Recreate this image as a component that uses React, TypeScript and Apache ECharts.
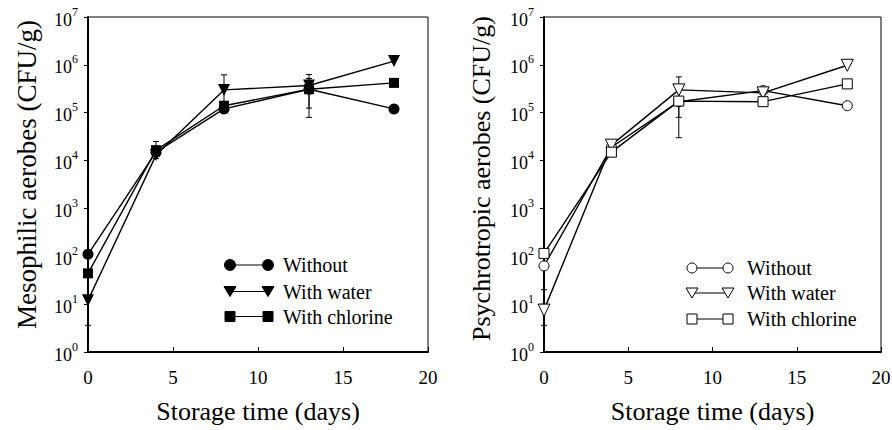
import React, { useEffect, useRef } from "react";
import * as echarts from "echarts";

const days = [0, 4, 8, 13, 18];
const legendLabels = ["Without", "With water", "With chlorine"];
const xTicks = [0, 5, 10, 15, 20];

// Mesophilic aerobes (CFU/g)
const mesoWithout = [110, 15000, 120000, 310000, 120000];
const mesoWater = [12, 13000, 300000, 370000, 1200000];
const mesoChlorine = [44, 16500, 140000, 310000, 420000];

// Psychrotropic aerobes (CFU/g)
const psyWithout = [63, 19000, 170000, 290000, 140000];
const psyWater = [7.5, 21000, 300000, 260000, 980000];
const psyChlorine = [115, 15000, 175000, 170000, 400000];

// error bars: [day, low, high]
const mesoErr = [
  [0, 3.6, 12],
  [4, 11000, 25000],
  [8, 140000, 620000],
  [13, 80000, 630000],
  [13, 125000, 520000],
];
const psyErr = [
  [0, 3.6, 10],
  [0, 20, 63],
  [8, 30000, 560000],
  [8, 80000, 350000],
];

const FONT = "Liberation Serif";

function pairs(vals: number[]) {
  return days.map((d, i) => [d, vals[i]]);
}

function errRender(params: any, api: any) {
  const x = api.value(0);
  const lo = api.coord([x, api.value(1)]);
  const hi = api.coord([x, api.value(2)]);
  const w = 3;
  const st = { stroke: "#000", lineWidth: 1 };
  return {
    type: "group",
    children: [
      { type: "line", shape: { x1: lo[0], y1: lo[1], x2: hi[0], y2: hi[1] }, style: st },
      { type: "line", shape: { x1: lo[0] - w, y1: lo[1], x2: lo[0] + w, y2: lo[1] }, style: st },
      { type: "line", shape: { x1: hi[0] - w, y1: hi[1], x2: hi[0] + w, y2: hi[1] }, style: st },
    ],
  };
}

function xAxisCfg(gridIndex: number) {
  return {
    gridIndex,
    type: "value",
    min: 0,
    max: 20,
    interval: 5,
    axisLine: { show: true, onZero: false, lineStyle: { color: "#000", width: 2 } },
    axisTick: { show: true, inside: true, length: 5, lineStyle: { color: "#000", width: 1 } },
    axisLabel: {
      color: "#000",
      fontSize: 19,
      fontFamily: FONT,
      margin: 16,
      formatter: (v: number) => (xTicks.includes(v) ? String(v) : ""),
    },
    splitLine: { show: false },
    name: "Storage time (days)",
    nameLocation: "middle",
    nameGap: 46,
    nameMoveOverlap: false,
    nameTextStyle: { color: "#000", fontSize: 26, fontFamily: FONT },
  };
}

function yAxisCfg(gridIndex: number, name: string, size: number, shift: number, gap: number) {
  return {
    gridIndex,
    type: "log",
    logBase: 10,
    min: 1,
    max: 1e7,
    splitNumber: 7,
    axisLine: { show: true, onZero: false, lineStyle: { color: "#000", width: 2 } },
    axisTick: { show: true, inside: false, length: 4, lineStyle: { color: "#000", width: 1 } },
    minorTick: { show: false },
    axisLabel: {
      color: "#000",
      margin: 10,
      formatter: (v: number) => `{b|10}{s|${Math.round(Math.log10(v))}}`,
      rich: {
        b: { fontSize: 18, fontFamily: FONT, color: "#000", padding: [5, 0, 0, 0] },
        s: { fontSize: 12, fontFamily: FONT, color: "#000", verticalAlign: "top" },
      },
    },
    splitLine: { show: false },
    name,
    nameLocation: "middle",
    nameGap: gap,
    nameMoveOverlap: false,
    nameTextStyle: { color: "#000", fontSize: size, fontFamily: FONT, padding: [0, 0, 0, shift] },
  };
}

function lineSeries(
  name: string,
  vals: number[],
  idx: number,
  symbol: string,
  size: number,
  rotate: number,
  filled: boolean
) {
  return {
    type: "line",
    name,
    xAxisIndex: idx,
    yAxisIndex: idx,
    data: pairs(vals),
    symbol,
    symbolSize: size,
    symbolRotate: rotate,
    showAllSymbol: true,
    clip: false,
    z: 3,
    lineStyle: { color: "#000", width: 1.4 },
    itemStyle: filled
      ? { color: "#000", borderColor: "#000", borderWidth: 0 }
      : { color: "#fff", borderColor: "#000", borderWidth: 1 },
    emphasis: { disabled: true },
  };
}

function legendGraphic(x1: number, x2: number, tx: number, ys: number[], filled: boolean) {
  const fill = filled ? "#000" : "#fff";
  const st = { fill, stroke: "#000", lineWidth: 1 };
  const els: any[] = [];
  const mk = (kind: number, cx: number, cy: number) => {
    if (kind === 0) return { type: "circle", shape: { cx, cy, r: filled ? 5.5 : 5 }, style: st };
    if (kind === 1)
      return {
        type: "polygon",
        shape: { points: [[cx - 6, cy - 5], [cx + 6, cy - 5], [cx, cy + 5]] },
        style: st,
      };
    return { type: "rect", shape: { x: cx - 5, y: cy - 5, width: 10, height: 10 }, style: st };
  };
  legendLabels.forEach((lab, k) => {
    const y = ys[k];
    els.push({ type: "line", shape: { x1, y1: y, x2, y2: y }, style: { stroke: "#000", lineWidth: 1.2 } });
    els.push(mk(k, x1, y));
    els.push(mk(k, x2, y));
    els.push({
      type: "text",
      x: tx,
      y,
      style: { text: lab, fontSize: 20, fontFamily: FONT, fill: "#000", verticalAlign: "middle", align: "left" },
    });
  });
  return els;
}

export default function App() {
  const ref = useRef<HTMLDivElement>(null);
  useEffect(() => {
    document.body.style.margin = "0";
    const chart = echarts.init(ref.current!, null, { renderer: "svg" });
    chart.setOption({
      animation: false,
      backgroundColor: "#fff",
      grid: [
        { left: 88, right: 464, top: 17, bottom: 78, outerBoundsMode: "none", containLabel: false, show: true, borderColor: "#000", borderWidth: 1, backgroundColor: "transparent" },
        { left: 544, right: 11, top: 17, bottom: 78, outerBoundsMode: "none", containLabel: false, show: true, borderColor: "#000", borderWidth: 1, backgroundColor: "transparent" },
      ],
      xAxis: [xAxisCfg(0), xAxisCfg(1)],
      yAxis: [
        yAxisCfg(0, "Mesophilic aerobes (CFU/g)", 27, 20, 48),
        yAxisCfg(1, "Psychrotropic aerobes (CFU/g)", 26, 12, 50),
      ],
      series: [
        {
          type: "custom",
          xAxisIndex: 0,
          yAxisIndex: 0,
          data: mesoErr,
          encode: { x: 0, y: [1, 2] },
          renderItem: errRender,
          z: 2,
          clip: false,
        },
        {
          type: "custom",
          xAxisIndex: 1,
          yAxisIndex: 1,
          data: psyErr,
          encode: { x: 0, y: [1, 2] },
          renderItem: errRender,
          z: 2,
          clip: false,
        },
        lineSeries(legendLabels[0], mesoWithout, 0, "circle", 11, 0, true),
        lineSeries(legendLabels[1], mesoWater, 0, "triangle", 12, 180, true),
        lineSeries(legendLabels[2], mesoChlorine, 0, "rect", 10, 0, true),
        lineSeries(legendLabels[0], psyWithout, 1, "circle", 10, 0, false),
        lineSeries(legendLabels[1], psyWater, 1, "triangle", 12, 180, false),
        lineSeries(legendLabels[2], psyChlorine, 1, "rect", 10, 0, false),
      ],
      graphic: [
        ...legendGraphic(230, 268, 283, [265, 291.5, 316.5], true),
        ...legendGraphic(692, 728, 747, [268, 293, 319], false),
      ],
    });
    return () => chart.dispose();
  }, []);
  return <div ref={ref} style={{ width: 892, height: 430 }} />;
}
